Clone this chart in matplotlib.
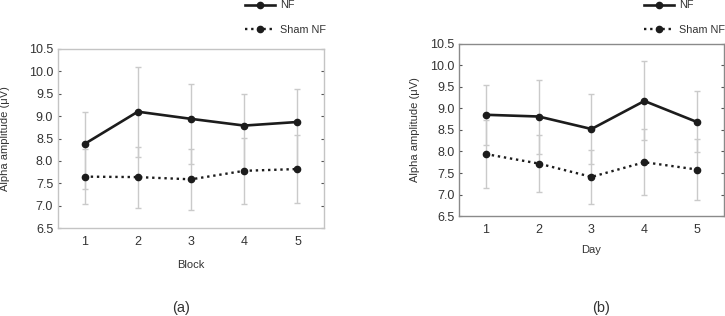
import matplotlib
matplotlib.use("Agg")
import matplotlib.pyplot as plt
import numpy as np

plt.rcParams['font.family'] = ['Liberation Sans', 'DejaVu Sans']

x = [1, 2, 3, 4, 5]

# panel (a): Block
nf_a = [8.38, 9.10, 8.94, 8.79, 8.87]
nf_a_hi = [9.09, 10.09, 9.72, 9.50, 9.60]
nf_a_lo = [7.38, 8.08, 7.93, 7.79, 7.87]
sham_a = [7.65, 7.64, 7.59, 7.78, 7.82]
sham_a_hi = [8.26, 8.31, 8.26, 8.51, 8.57]
sham_a_lo = [7.03, 6.96, 6.91, 7.03, 7.06]

# panel (b): Day
nf_b = [8.85, 8.81, 8.52, 9.17, 8.68]
nf_b_hi = [9.55, 9.66, 9.33, 10.09, 9.39]
nf_b_lo = [8.16, 7.94, 7.72, 8.27, 7.98]
sham_b = [7.94, 7.72, 7.41, 7.75, 7.58]
sham_b_hi = [8.72, 8.37, 8.03, 8.53, 8.28]
sham_b_lo = [7.16, 7.07, 6.79, 7.00, 6.87]

yticks = np.arange(6.5, 10.51, 0.5)
ink = '#1c1c1c'
errc = '#cacaca'


def draw(ax, nf, nf_hi, nf_lo, sham, sham_hi, sham_lo, xlabel, spine_col, xlab_y, ylab_x):
    nf = np.array(nf)
    sham = np.array(sham)
    ax.errorbar(x, nf, yerr=[nf - np.array(nf_lo), np.array(nf_hi) - nf], fmt='none',
                ecolor=errc, elinewidth=1, capsize=2.5, capthick=1, zorder=1)
    ax.errorbar(x, sham, yerr=[sham - np.array(sham_lo), np.array(sham_hi) - sham], fmt='none',
                ecolor=errc, elinewidth=1, capsize=2.5, capthick=1, zorder=1)
    l1, = ax.plot(x, nf, '-', color=ink, lw=1.9, marker='o', ms=4.5, zorder=3, label='NF')
    l2, = ax.plot(x, sham, color=ink, lw=1.7, ls=(0, (1, 1.6)), marker='o', ms=4.5,
                  zorder=3, label='Sham NF')
    ax.set_xlim(0.5, 5.5)
    ax.set_ylim(6.5, 10.5)
    ax.set_xticks(x)
    ax.set_yticks(yticks)
    ax.set_yticklabels([f'{v:.1f}' for v in yticks])
    ax.tick_params(axis='x', length=0, pad=6, labelsize=9, colors='#333333')
    ax.tick_params(axis='y', direction='in', length=2.5, width=0.8, color='#555555',
                   left=True, right=True, pad=3.5, labelsize=9, labelcolor='#333333')
    for s in ax.spines.values():
        s.set_color(spine_col)
        s.set_linewidth(1)
    ax.set_xlabel(xlabel, fontsize=8, color='#333333')
    ax.set_ylabel('Alpha amplitude (μV)', fontsize=8, color='#333333')
    ax.xaxis.set_label_coords(0.5, xlab_y)
    ax.yaxis.set_label_coords(ylab_x, 0.5)
    return l1, l2


fig = plt.figure(figsize=(7.25, 3.16), dpi=100)
ax1 = fig.add_axes([0.080, 0.278, 0.367, 0.567])
ax2 = fig.add_axes([0.6335, 0.316, 0.3647, 0.546])

h1 = draw(ax1, nf_a, nf_a_hi, nf_a_lo, sham_a, sham_a_hi, sham_a_lo, 'Block', '#c4c4c4', -0.176, -0.18)
h2 = draw(ax2, nf_b, nf_b_hi, nf_b_lo, sham_b, sham_b_hi, sham_b_lo, 'Day', '#8a8a8a', -0.170, -0.15)

for h, x0 in [(h1, 245 / 725), (h2, 644 / 725)]:
    fig.legend(handles=h, loc='center left', bbox_to_anchor=(x0, 1 - 17.5 / 316),
               frameon=False, fontsize=7.8, handlelength=2.8, handletextpad=0.4,
               labelspacing=1.3, borderpad=0, borderaxespad=0, labelcolor='#333333')

fig.text(181 / 725, 1 - 308 / 316, '(a)', ha='center', va='center', fontsize=10.5, color='#333333')
fig.text(601 / 725, 1 - 308 / 316, '(b)', ha='center', va='center', fontsize=10.5, color='#333333')

fig.savefig('out.png', dpi=100, facecolor='white')
